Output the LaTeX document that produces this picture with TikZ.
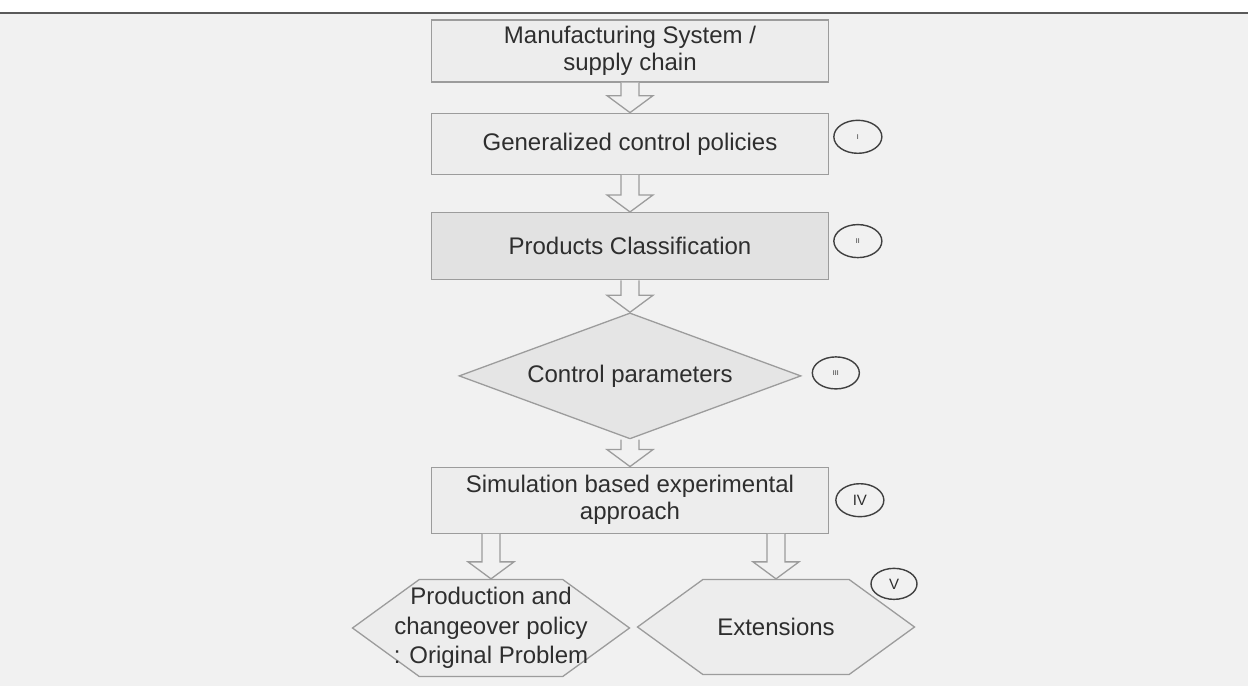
\documentclass[tikz,border=0pt]{standalone}
\usepackage{fontspec}
\setmainfont{Liberation Sans}
\usetikzlibrary{positioning,calc,shapes.geometric,shapes.symbols}
\definecolor{pagegray}{HTML}{F1F1F1}
\definecolor{boxfill}{HTML}{EDEDED}
\definecolor{darkfill}{HTML}{E2E2E2}
\definecolor{diamondfill}{HTML}{E5E5E5}
\definecolor{edgegray}{HTML}{9C9C9C}
\definecolor{rulegray}{HTML}{5A5A5A}
\definecolor{inkgray}{HTML}{2E2E2E}

\newcommand{\hollowarrow}[2]{%
 \filldraw[arrowbody] ($(#1)+(-9,0)$) -- ($(#2)+(-9,17)$) -- ($(#2)+(-23,17)$) -- (#2) -- ($(#2)+(23,17)$) -- ($(#2)+(9,17)$) -- ($(#1)+(9,0)$);}

\begin{document}
\begin{tikzpicture}[x=1pt,y=1pt,node distance=30pt,
 font=\fontsize{24}{27}\selectfont,text=inkgray,
 stepbox/.style={draw=edgegray,line width=1.3pt,fill=boxfill,minimum width=397pt,minimum height=62pt,align=center,inner sep=2pt},
 choice/.style={diamond,draw=edgegray,line width=1.3pt,fill=diamondfill,aspect=2.7,minimum width=342pt,minimum height=126pt,inner sep=0pt},
 outcome/.style={signal,signal to=west and east,signal pointer angle=72,draw=edgegray,line width=1.3pt,fill=boxfill,minimum width=277pt,minimum height=97pt,align=center,inner sep=0pt},
 tag/.style={ellipse,draw=black!75,line width=1.4pt,minimum width=48pt,minimum height=33pt,inner sep=0pt,font=\fontsize{15}{15}\selectfont},
 tinytag/.style={tag,font=\fontsize{7}{7}\selectfont},
 arrowbody/.style={draw=edgegray,line width=1.3pt,fill=pagegray}]
\useasboundingbox (0,0) rectangle (1248,-691);
\fill[pagegray] (0,-13) rectangle (1248,-686);
\draw[rulegray,line width=2pt] (0,-13) -- (1248,-13);

\node[stepbox] (sys) at (630,-51) {Manufacturing System /\\supply chain};
\node[stepbox,minimum height=61pt,below=30pt of sys] (gen) {Generalized control policies};
\node[stepbox,fill=darkfill,minimum height=67pt,below=37pt of gen] (cls) {Products Classification};
\node[choice,below=32pt of cls] (par) {Control parameters};
\node[stepbox,minimum height=66pt,below=27pt of par] (sim) {Simulation based experimental\\approach};
\node[outcome,anchor=north,below=45pt of sim.south,xshift=-139pt,font=\fontsize{24}{29.5}\selectfont] (prod) {\makebox[0pt]{Production and}\\\makebox[0pt]{changeover policy}\\\makebox[0pt]{: Original Problem}};
\node[outcome,anchor=north,minimum height=95pt,below=45pt of sim.south,xshift=146pt] (ext) {Extensions};

\node[tinytag,right=4pt of gen,yshift=7pt] (t1) {I};
\node[tinytag,right=4pt of cls,yshift=5pt] (t2) {II};
\node[tinytag,minimum width=47pt,minimum height=32pt,right=10pt of par,yshift=3pt] (t3) {III};
\node[tag,right=6pt of sim] (t4) {IV};
\node[tag,minimum width=46pt,minimum height=31pt] (t5) at ($(ext.north)+(118,-5)$) {V};

\hollowarrow{sys.south}{gen.north}
\hollowarrow{gen.south}{cls.north}
\hollowarrow{cls.south}{par.north}
\hollowarrow{par.south}{sim.north}
\hollowarrow{sim.south -| prod.north}{prod.north}
\hollowarrow{sim.south -| ext.north}{ext.north}
\end{tikzpicture}
\end{document}
